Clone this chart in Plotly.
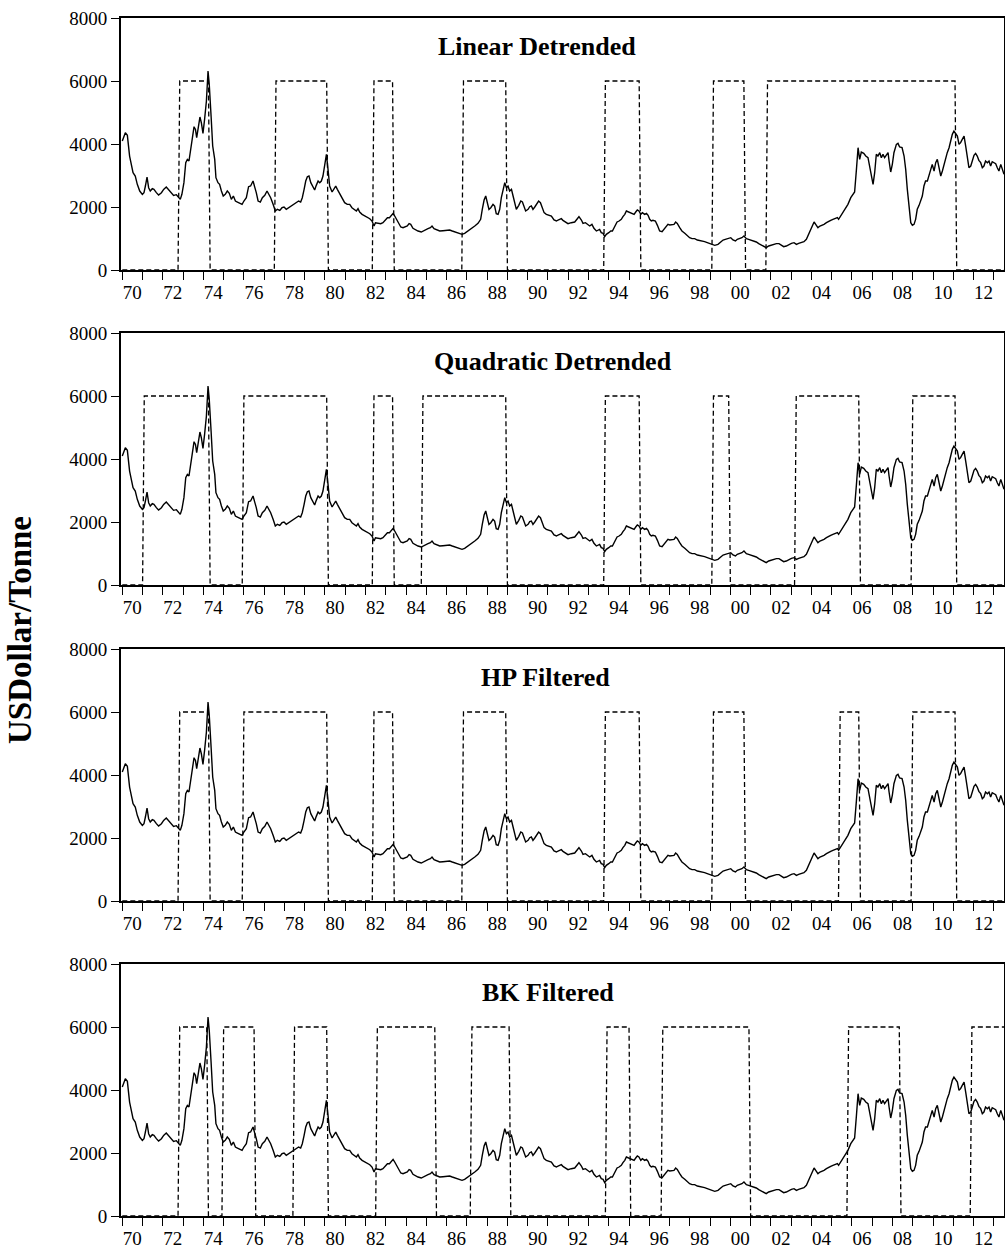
import numpy as np
import plotly.graph_objects as go

# ---------------- data ----------------
price_dates = [
    1970.00, 1970.15, 1970.25, 1970.36, 1970.53, 1970.64, 1970.74, 1970.86, 1970.99, 1971.07,
    1971.14, 1971.22, 1971.30, 1971.38, 1971.48, 1971.56, 1971.68, 1971.79, 1971.93, 1972.04,
    1972.17, 1972.29, 1972.42, 1972.53, 1972.67, 1972.78, 1972.86, 1972.94, 1973.04, 1973.13,
    1973.21, 1973.29, 1973.37, 1973.46, 1973.54, 1973.61, 1973.67, 1973.75, 1973.83, 1973.90,
    1973.98, 1974.06, 1974.15, 1974.23, 1974.29, 1974.38, 1974.46, 1974.56, 1974.62, 1974.72,
    1974.80, 1974.89, 1974.98, 1975.08, 1975.18, 1975.28, 1975.38, 1975.48, 1975.58, 1975.68,
    1975.79, 1975.91, 1976.00, 1976.12, 1976.23, 1976.33, 1976.45, 1976.53, 1976.61, 1976.70,
    1976.81, 1976.91, 1977.03, 1977.14, 1977.19, 1977.32, 1977.44, 1977.55, 1977.65, 1977.77,
    1977.88, 1977.98, 1978.09, 1978.21, 1978.34, 1978.47, 1978.59, 1978.70, 1978.80, 1978.88,
    1978.97, 1979.05, 1979.13, 1979.21, 1979.30, 1979.41, 1979.49, 1979.57, 1979.66, 1979.74,
    1979.82, 1979.90, 1979.99, 1980.07, 1980.15, 1980.23, 1980.35, 1980.45, 1980.53, 1980.61,
    1980.73, 1980.84, 1980.97, 1981.10, 1981.22, 1981.33, 1981.43, 1981.55, 1981.63, 1981.71,
    1981.83, 1981.96, 1982.09, 1982.21, 1982.32, 1982.42, 1982.49, 1982.62, 1982.75, 1982.86,
    1982.98, 1983.08, 1983.18, 1983.28, 1983.36, 1983.44, 1983.52, 1983.64, 1983.74, 1983.85,
    1983.97, 1984.06, 1984.15, 1984.23, 1984.34, 1984.51, 1984.59, 1984.75, 1984.92, 1985.08,
    1985.20, 1985.28, 1985.38, 1985.49, 1985.66, 1985.82, 1985.99, 1986.15, 1986.28, 1986.43,
    1986.60, 1986.76, 1986.89, 1987.06, 1987.22, 1987.39, 1987.55, 1987.68, 1987.76, 1987.85,
    1987.93, 1988.01, 1988.09, 1988.18, 1988.29, 1988.37, 1988.45, 1988.54, 1988.62, 1988.70,
    1988.78, 1988.87, 1988.95, 1989.03, 1989.11, 1989.20, 1989.28, 1989.36, 1989.44, 1989.56,
    1989.66, 1989.74, 1989.82, 1989.90, 1990.02, 1990.10, 1990.18, 1990.26, 1990.35, 1990.43,
    1990.54, 1990.63, 1990.71, 1990.81, 1990.92, 1991.04, 1991.17, 1991.30, 1991.42, 1991.50,
    1991.58, 1991.66, 1991.74, 1991.86, 1991.99, 1992.15, 1992.32, 1992.45, 1992.53, 1992.65,
    1992.73, 1992.85, 1992.94, 1993.06, 1993.17, 1993.27, 1993.39, 1993.47, 1993.55, 1993.63,
    1993.72, 1993.80, 1993.88, 1994.00, 1994.10, 1994.18, 1994.29, 1994.41, 1994.51, 1994.62,
    1994.70, 1994.79, 1994.87, 1994.95, 1995.05, 1995.15, 1995.25, 1995.33, 1995.41, 1995.49,
    1995.58, 1995.66, 1995.77, 1995.86, 1995.94, 1996.02, 1996.10, 1996.18, 1996.30, 1996.40,
    1996.51, 1996.63, 1996.73, 1996.84, 1996.92, 1997.01, 1997.12, 1997.22, 1997.30, 1997.38,
    1997.50, 1997.61, 1997.75, 1997.88, 1997.99, 1998.11, 1998.24, 1998.37, 1998.49, 1998.62,
    1998.73, 1998.86, 1998.98, 1999.10, 1999.23, 1999.39, 1999.52, 1999.64, 1999.75, 1999.88,
    2000.02, 2000.13, 2000.25, 2000.34, 2000.46, 2000.57, 2000.67, 2000.79, 2000.90, 2001.03,
    2001.17, 2001.28, 2001.40, 2001.53, 2001.66, 2001.77, 2001.89, 2002.02, 2002.15, 2002.27,
    2002.40, 2002.51, 2002.63, 2002.76, 2002.89, 2003.01, 2003.14, 2003.26, 2003.37, 2003.50,
    2003.63, 2003.75, 2003.83, 2003.93, 2004.03, 2004.13, 2004.21, 2004.32, 2004.42, 2004.52,
    2004.62, 2004.74, 2004.85, 2004.95, 2005.06, 2005.18, 2005.28, 2005.34, 2005.44, 2005.56,
    2005.67, 2005.80, 2005.94, 2006.05, 2006.13, 2006.22, 2006.30, 2006.38, 2006.46, 2006.58,
    2006.68, 2006.79, 2006.87, 2006.95, 2007.04, 2007.12, 2007.20, 2007.28, 2007.37, 2007.45,
    2007.53, 2007.61, 2007.69, 2007.78, 2007.83, 2007.91, 2007.99, 2008.07, 2008.19, 2008.27,
    2008.35, 2008.47, 2008.57, 2008.65, 2008.73, 2008.81, 2008.90, 2008.98, 2009.06, 2009.14,
    2009.22, 2009.31, 2009.39, 2009.47, 2009.55, 2009.63, 2009.72, 2009.80, 2009.88, 2009.96,
    2010.05, 2010.13, 2010.21, 2010.29, 2010.38, 2010.46, 2010.54, 2010.62, 2010.70, 2010.79,
    2010.87, 2010.95, 2011.03, 2011.12, 2011.20, 2011.28, 2011.36, 2011.44, 2011.53, 2011.61,
    2011.69, 2011.77, 2011.86, 2011.94, 2012.02, 2012.10, 2012.18, 2012.26, 2012.35, 2012.43,
    2012.51, 2012.59, 2012.68, 2012.76, 2012.84, 2012.92, 2013.01, 2013.09, 2013.17, 2013.25,
    2013.34, 2013.42, 2013.50,
]
price_values = [
    4094, 4359, 4274, 3618, 3089, 2984, 2719, 2507, 2402, 2455,
    2666, 2952, 2613, 2507, 2582, 2560, 2455, 2380, 2455, 2560,
    2634, 2539, 2423, 2370, 2391, 2296, 2243, 2402, 2772, 3407,
    3513, 3460, 3883, 4200, 4549, 4465, 4200, 4571, 4856, 4676,
    4338, 4782, 5364, 6316, 5893, 4888, 3936, 3513, 2930, 2772,
    2719, 2507, 2349, 2402, 2507, 2433, 2243, 2349, 2190, 2158,
    2116, 2084, 2190, 2296, 2645, 2666, 2825, 2666, 2455, 2190,
    2158, 2296, 2370, 2507, 2455, 2296, 2084, 1873, 1926, 1894,
    1978, 2000, 1926, 1978, 2031, 2063, 2137, 2190, 2158, 2296,
    2560, 2825, 2962, 2984, 2772, 2613, 2539, 2687, 2825, 2772,
    2825, 2984, 3407, 3671, 3195, 2666, 2476, 2560, 2666, 2560,
    2433, 2296, 2137, 2084, 2084, 1978, 1926, 1873, 1947, 1841,
    1767, 1714, 1661, 1629, 1555, 1397, 1502, 1481, 1471, 1502,
    1608, 1661, 1661, 1735, 1799, 1714, 1608, 1449, 1365, 1344,
    1376, 1397, 1471, 1449, 1323, 1259, 1238, 1206, 1270, 1312,
    1344, 1397, 1312, 1291, 1238, 1248, 1270, 1270, 1238, 1206,
    1153, 1132, 1164, 1238, 1312, 1397, 1481, 1608, 1926, 2222,
    2349, 2137, 1926, 1978, 2084, 2031, 1788, 1767, 1926, 2296,
    2560, 2772, 2613, 2666, 2507, 2560, 2349, 2084, 1926, 2052,
    2190, 2158, 1978, 1873, 1926, 2010, 2031, 1926, 2000, 2084,
    2190, 2137, 1978, 1820, 1767, 1735, 1714, 1587, 1555, 1587,
    1608, 1629, 1576, 1524, 1471, 1502, 1524, 1629, 1693, 1587,
    1481, 1502, 1449, 1397, 1449, 1323, 1238, 1259, 1291, 1185,
    1164, 1058, 1132, 1185, 1238, 1238, 1376, 1524, 1555, 1608,
    1693, 1767, 1873, 1852, 1820, 1799, 1767, 1841, 1904, 1873,
    1767, 1820, 1767, 1799, 1735, 1608, 1555, 1576, 1555, 1418,
    1238, 1217, 1291, 1397, 1449, 1428, 1449, 1449, 1524, 1481,
    1344, 1238, 1164, 1079, 1026, 995, 995, 952, 942, 920,
    899, 868, 846, 815, 783, 815, 889, 952, 973, 995,
    1026, 952, 920, 973, 995, 1026, 1079, 995, 973, 942,
    920, 889, 836, 783, 740, 709, 762, 794, 815, 836,
    836, 783, 740, 762, 815, 846, 868, 815, 846, 868,
    899, 973, 1079, 1238, 1397, 1524, 1449, 1344, 1397, 1418,
    1449, 1502, 1555, 1576, 1608, 1629, 1661, 1608, 1714, 1820,
    1926, 2084, 2296, 2423, 2476, 3195, 3883, 3513, 3745, 3703,
    3618, 3565, 3301, 2930, 2719, 3089, 3671, 3618, 3724, 3565,
    3671, 3565, 3640, 3724, 3460, 3111, 3354, 3724, 3989, 4020,
    3904, 3883, 3618, 3195, 2560, 1926, 1502, 1418, 1449, 1608,
    1926, 2052, 2190, 2349, 2666, 2825, 2825, 2984, 3195, 3354,
    3142, 3407, 3513, 3216, 2984, 3142, 3354, 3565, 3724, 3883,
    4147, 4306, 4412, 4306, 4253, 3989, 4042, 4147, 4253, 3936,
    3513, 3248, 3301, 3460, 3640, 3703, 3618, 3481, 3407, 3248,
    3301, 3460, 3407, 3460, 3301, 3439, 3407, 3375, 3248, 3142,
    3354, 3195, 3037,
]

panel_titles = ["Linear Detrended", "Quadratic Detrended", "HP Filtered", "BK Filtered"]

# boom periods (start, end) in decimal years: indicator = 6000 inside, 0 outside
linear_booms = [(1972.83, 1974.25), (1977.58, 1980.08), (1982.42, 1983.33), (1986.83, 1988.92),
                (1993.83, 1995.50), (1999.17, 2000.67), (2001.83, 2011.08)]
quadratic_booms = [(1971.08, 1974.25), (1976.00, 1980.08), (1982.42, 1983.33), (1984.83, 1988.92),
                   (1993.83, 1995.50), (1999.17, 1999.92), (2003.25, 2006.33), (2009.00, 2011.08)]
hp_booms = [(1972.83, 1974.25), (1976.00, 1980.08), (1982.42, 1983.33), (1986.83, 1988.92),
            (1993.83, 1995.50), (1999.17, 2000.67), (2005.42, 2006.33), (2009.00, 2011.08)]
bk_booms = [(1972.83, 1974.17), (1975.00, 1976.50), (1978.50, 1980.08), (1982.62, 1985.42),
            (1987.25, 1989.08), (1993.92, 1995.00), (1996.67, 2000.92), (2005.83, 2008.33),
            (2011.92, 2013.50)]
boom_level = 6000

y_ticks = [0, 2000, 4000, 6000, 8000]
year_ticks = list(range(1970, 2014))
year_labels = [f"{y % 100:02d}" if y % 2 == 0 else "" for y in year_ticks]

sample_start, sample_end = 1970.0, 2013.5

# ---------------- figure ----------------
FONT = "Liberation Serif, Times New Roman, serif"
W, H = 1005, 1254
ML, MR, MT, MB = 121, 1, 18, 38
plot_h = H - MT - MB
panel_px = [(0, 252), (315, 567), (631, 883), (946, 1198)]

months = sample_start + np.arange(int(round((sample_end - sample_start) * 12)) + 1) / 12.0


def indicator(periods):
    vals = np.zeros_like(months)
    for s, e in periods:
        vals[(months >= s - 0.04) & (months <= e + 0.04)] = boom_level
    return vals


all_booms = [linear_booms, quadratic_booms, hp_booms, bk_booms]
title_cx = [537, 553, 545, 548]

fig = go.Figure()
layout = dict(
    width=W, height=H,
    margin=dict(l=ML, r=MR, t=MT, b=MB, autoexpand=False),
    paper_bgcolor="white", plot_bgcolor="white",
    showlegend=False,
    font=dict(family=FONT, size=19, color="black"),
    annotations=[],
)

for i, booms in enumerate(all_booms):
    k = "" if i == 0 else str(i + 1)
    fig.add_trace(go.Scatter(x=months, y=indicator(booms), mode="lines",
                             line=dict(color="black", width=1.3, dash="5px,3px"),
                             xaxis="x" + k, yaxis="y" + k, hoverinfo="skip"))
    fig.add_trace(go.Scatter(x=price_dates, y=price_values, mode="lines",
                             line=dict(color="black", width=1.4),
                             xaxis="x" + k, yaxis="y" + k))
    top, bot = panel_px[i]
    layout["xaxis" + k] = dict(
        domain=[0, 1], anchor="y" + k, range=[1969.936, 2013.5],
        tickmode="array", tickvals=year_ticks, ticktext=year_labels,
        ticks="outside", ticklen=8, tickwidth=1, tickcolor="black",
        ticklabelshift=10, ticklabelstandoff=-4, automargin=False,
        showline=True, linewidth=2, linecolor="black", mirror=True,
        showgrid=False, zeroline=False,
        tickfont=dict(family=FONT, size=19, color="black"),
    )
    layout["yaxis" + k] = dict(
        domain=[1 - bot / plot_h, 1 - top / plot_h], anchor="x" + k, range=[0, 8000],
        tickmode="array", tickvals=y_ticks, automargin=False,
        ticks="outside", ticklen=8, tickwidth=1, tickcolor="black",
        showline=True, linewidth=2, linecolor="black", mirror=True,
        showgrid=False, zeroline=False,
        tickfont=dict(family=FONT, size=19, color="black"),
    )
    layout["annotations"].append(dict(
        text="<b>" + panel_titles[i] + "</b>",
        xref="x" + k + " domain", yref="y" + k + " domain",
        x=(title_cx[i] - ML) / (W - ML - MR), y=1 - 28 / 252,
        xanchor="center", yanchor="middle", showarrow=False,
        font=dict(family=FONT, size=26, color="black"),
    ))

layout["annotations"].append(dict(
    text="<b>USDollar/Tonne</b>", textangle=-90,
    xref="paper", yref="paper",
    x=(20 - ML) / (W - ML - MR), y=(H - MB - 630) / plot_h,
    xanchor="center", yanchor="middle", showarrow=False,
    font=dict(family=FONT, size=33, color="black"),
))

fig.update_layout(**layout)
fig.write_html(
    "out.html",
    config={"displayModeBar": False},
    post_script="document.body.style.margin='0';document.body.style.overflow='hidden';",
)
